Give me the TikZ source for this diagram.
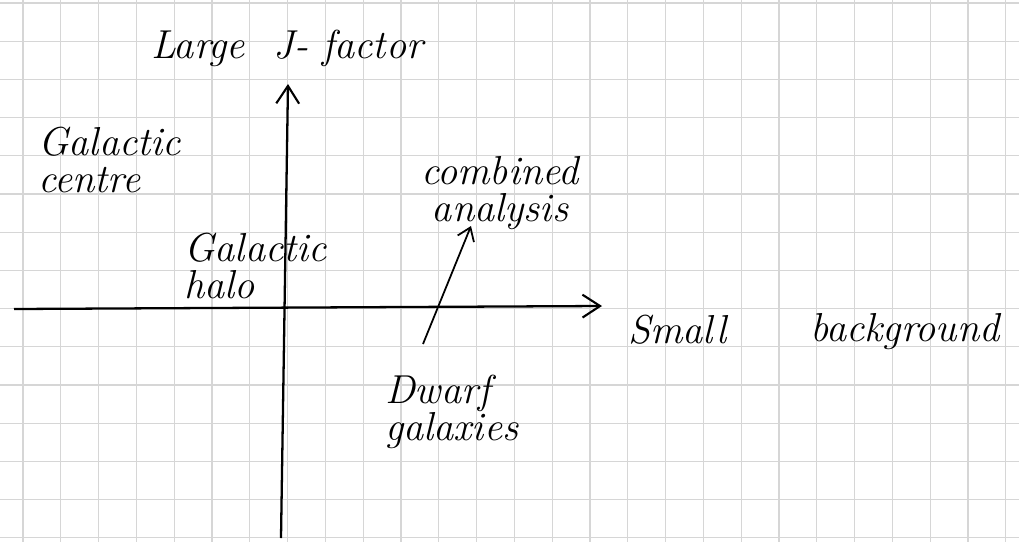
\documentclass[tikz,border=0pt]{standalone}
\usepackage{tikz}
\usetikzlibrary{arrows.meta, positioning}

\begin{document}
\begin{tikzpicture}[
    x=0.02cm, y=-0.02cm,
    every node/.style={font=\fontsize{23}{21}\selectfont\itshape, inner sep=1pt},
    label2/.style={align=left},
    gridline/.style={black!16, line width=0.6pt},
    axis/.style={-{Straight Barb[length=10pt, width=13pt, line width=1.2pt]}, line width=1.3pt},
    arrow/.style={-{Straight Barb[length=7pt, width=10pt]}, line width=1pt}
]
\useasboundingbox (0,0) rectangle (1019,542);
% squared paper
\foreach \gx in {0,...,26} \draw[gridline] (23+37.8*\gx,0) -- (23+37.8*\gx,542);
\foreach \gy in {0,...,14} \draw[gridline] (0,3+38.2*\gy) -- (1019,3+38.2*\gy);

\coordinate (ybot) at (281,538);
\coordinate (ytop) at (288,84);
\coordinate (xleft) at (14,309);
\coordinate (xright) at (602,306);
\coordinate (dwtop) at (423,344);
\coordinate (cbot) at (471,226);

\node (large) at (287,48) {Large \ J- factor};
\node (centre) [label2, anchor=west] at (36,160) {Galactic\\centre};
\node (combined) [label2, align=center] at (500,193) {combined\\analysis};
\node (halo) [label2, anchor=west] at (182,266) {Galactic\\halo};
\node (small) [anchor=west] at (626,330) {Small};
\node (bg) [anchor=west] at (808,332) {background};
\node (dwarf) [label2, anchor=west] at (383,412) {Dwarf\\galaxies};

\draw [axis] (ybot) -- (ytop);
\draw [axis] (xleft) -- (xright);
\draw [arrow] (dwtop) -- (cbot);
\end{tikzpicture}
\end{document}
